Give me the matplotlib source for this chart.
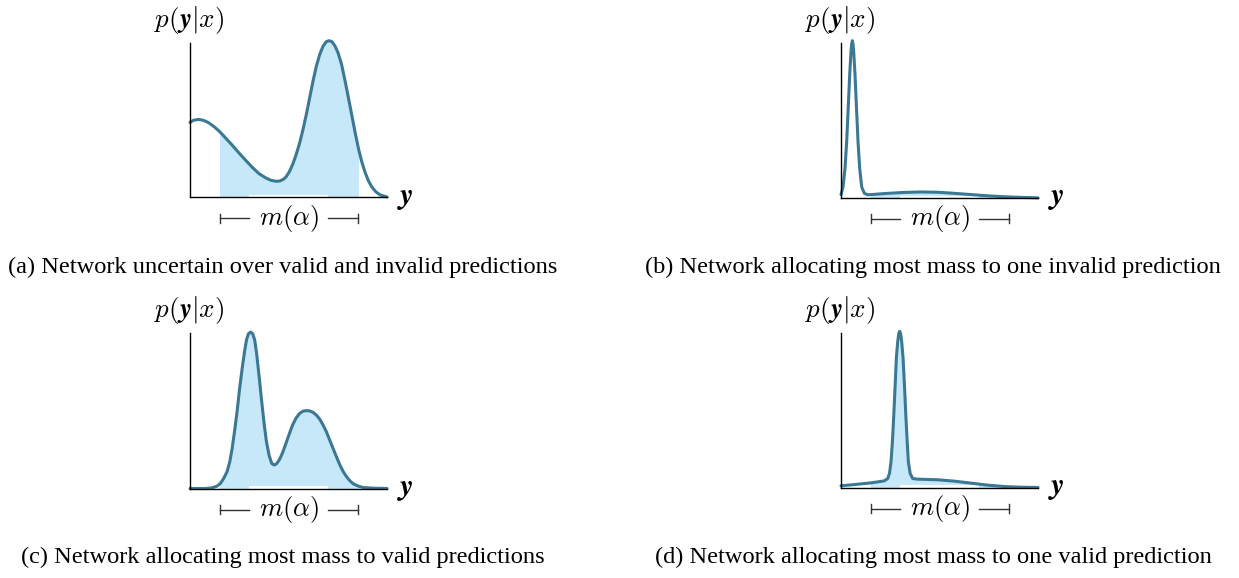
import numpy as np
import matplotlib
matplotlib.use("Agg")
import matplotlib.pyplot as plt
from matplotlib.patches import Rectangle
from matplotlib.transforms import blended_transform_factory

plt.rcParams['mathtext.fontset'] = 'cm'

W, H = 1239, 578
LINE = '#3b7893'
FILL = '#c6e8f8'

# ---------------- data (normalised y-position, density) ----------------
a_x = [0.000, 0.017, 0.043, 0.068, 0.094, 0.125, 0.154, 0.183, 0.214, 0.248, 0.282, 0.316,
       0.350, 0.385, 0.410, 0.436, 0.456, 0.474, 0.487, 0.504, 0.521, 0.538, 0.556, 0.573,
       0.590, 0.607, 0.624, 0.641, 0.658, 0.675, 0.692, 0.706, 0.720, 0.735, 0.752, 0.769,
       0.786, 0.803, 0.821, 0.838, 0.855, 0.872, 0.889, 0.906, 0.923, 0.944, 0.966, 1.000]
a_y = [0.485, 0.498, 0.504, 0.498, 0.483, 0.454, 0.420, 0.380, 0.337, 0.287, 0.239, 0.193,
       0.152, 0.124, 0.109, 0.102, 0.104, 0.115, 0.130, 0.163, 0.211, 0.272, 0.348, 0.435,
       0.533, 0.641, 0.750, 0.848, 0.924, 0.978, 1.009, 1.015, 1.009, 0.983, 0.935, 0.863,
       0.761, 0.652, 0.533, 0.420, 0.315, 0.228, 0.159, 0.104, 0.065, 0.033, 0.013, 0.000]

b_x = [0.000, 0.0102, 0.0203, 0.0288, 0.0373, 0.0441, 0.0508, 0.0542, 0.0576, 0.0610, 0.0644,
       0.0712, 0.078, 0.0864, 0.0949, 0.1051, 0.1186, 0.1356, 0.1525, 0.2373, 0.322, 0.4068,
       0.4915, 0.5763, 0.661, 0.7458, 0.8305, 0.9153, 1.000]
b_y = [0.022, 0.071, 0.190, 0.363, 0.600, 0.795, 0.946, 0.994, 1.015, 0.994, 0.946,
       0.795, 0.600, 0.363, 0.190, 0.071, 0.030, 0.021, 0.022, 0.030, 0.036, 0.039,
       0.037, 0.030, 0.022, 0.014, 0.008, 0.004, 0.001]

c_x = [0.000, 0.077, 0.111, 0.137, 0.154, 0.171, 0.188, 0.202, 0.214, 0.227, 0.239, 0.251,
       0.265, 0.277, 0.287, 0.297, 0.308, 0.318, 0.328, 0.338, 0.350, 0.364, 0.376, 0.388,
       0.402, 0.415, 0.427, 0.439, 0.453, 0.470, 0.487, 0.504, 0.521, 0.538, 0.556, 0.573,
       0.590, 0.607, 0.624, 0.641, 0.658, 0.675, 0.692, 0.709, 0.726, 0.744, 0.761, 0.778,
       0.795, 0.812, 0.829, 0.855, 0.880, 0.932, 1.000]
c_y = [0.000, 0.000, 0.004, 0.015, 0.032, 0.065, 0.108, 0.172, 0.258, 0.376, 0.495, 0.634,
       0.774, 0.882, 0.957, 0.996, 1.006, 0.996, 0.957, 0.871, 0.731, 0.559, 0.419, 0.301,
       0.211, 0.161, 0.151, 0.159, 0.183, 0.230, 0.290, 0.351, 0.409, 0.452, 0.482, 0.497,
       0.501, 0.499, 0.490, 0.473, 0.447, 0.409, 0.366, 0.312, 0.258, 0.202, 0.151, 0.108,
       0.075, 0.049, 0.030, 0.015, 0.006, 0.002, 0.000]

d_x = [0.000, 0.068, 0.153, 0.220, 0.237, 0.246, 0.254, 0.261, 0.268, 0.275, 0.281, 0.288,
       0.293, 0.298, 0.303, 0.308, 0.315, 0.322, 0.329, 0.336, 0.342, 0.351, 0.364, 0.390,
       0.492, 0.576, 0.661, 0.746, 0.831, 0.915, 1.000]
d_y = [0.011, 0.019, 0.030, 0.043, 0.058, 0.091, 0.167, 0.297, 0.470, 0.665, 0.838, 0.946,
       0.994, 1.011, 0.994, 0.946, 0.838, 0.665, 0.470, 0.297, 0.167, 0.091, 0.058, 0.054,
       0.050, 0.041, 0.028, 0.015, 0.006, 0.002, 0.000]

region = [0.154, 0.855]   # valid region m(alpha)

captions = [
    "(a) Network uncertain over valid and invalid predictions",
    "(b) Network allocating most mass to one invalid prediction",
    "(c) Network allocating most mass to valid predictions",
    "(d) Network allocating most mass to one valid prediction",
]

panels = [
    # (x, y, left px, top px, right px, bottom px, caption centre x, caption baseline y)
    (a_x, a_y, 190, 43, 387, 197, 283, 273),
    (b_x, b_y, 841, 43, 1038, 198, 933, 273),
    (c_x, c_y, 190, 333, 387, 488.5, 283, 563),
    (d_x, d_y, 841, 333, 1038, 487.5, 933, 563),
]

fig = plt.figure(figsize=(W / 100, H / 100), dpi=100)

for (xs, ys, l, t, r, b, cx, cy), cap in zip(panels, captions):
    ax = fig.add_axes([l / W, 1 - b / H, (r - l) / W, (b - t) / H])
    ax.set_xlim(0, 1)
    ax.set_ylim(0, 1)
    ax.set_xticks([])
    ax.set_yticks([])
    for s in ['top', 'right']:
        ax.spines[s].set_visible(False)
    for s in ['left', 'bottom']:
        ax.spines[s].set_linewidth(1.0)
        ax.spines[s].set_color('black')
        ax.spines[s].set_zorder(5)
    ax.patch.set_alpha(0)

    xs = np.asarray(xs)
    ys = np.asarray(ys)
    fb = ax.fill_between(xs, ys, 0, color=FILL, lw=0, zorder=1)
    clip = Rectangle((region[0], -0.1), region[1] - region[0], 1.3,
                     transform=ax.transData)
    fb.set_clip_on(True)
    fb.set_clip_path(clip)
    ax.add_patch(Rectangle((0.30, 0), 0.40, 0.015, facecolor='white', lw=0, zorder=2))
    ax.plot(xs, ys, color=LINE, lw=2.2, zorder=3, clip_on=False,
            solid_capstyle='round', solid_joinstyle='round')

    # bracket
    tr = blended_transform_factory(ax.transData, ax.transAxes)
    yb = -21 / (b - t)
    th = 4.5 / (b - t)
    kw = dict(color='#333333', lw=1.0, transform=tr, clip_on=False)
    ax.plot([region[0], 0.30], [yb, yb], **kw)
    ax.plot([0.70, region[1]], [yb, yb], **kw)
    ax.plot([region[0], region[0]], [yb - th, yb + th], **kw)
    ax.plot([region[1], region[1]], [yb - th, yb + th], **kw)
    ax.text(0.5, yb, r'$m(\alpha)$', transform=tr, ha='center', va='center', fontsize=19)

    # axis labels
    ax.text(-0.005, 1 + 23 / (b - t), r'$p(\mathbfit{y}|x)$', transform=ax.transAxes,
            ha='center', va='center', fontsize=19.5)
    ax.text(1 + 18 / (r - l), 0.0, r'$\mathbfit{y}$', transform=ax.transAxes,
            ha='center', va='center', fontsize=22)

    fig.text(cx / W, 1 - cy / H, cap, ha='center', va='baseline',
             fontsize=17.6, family='Liberation Serif')

fig.savefig('out.png', dpi=100)
